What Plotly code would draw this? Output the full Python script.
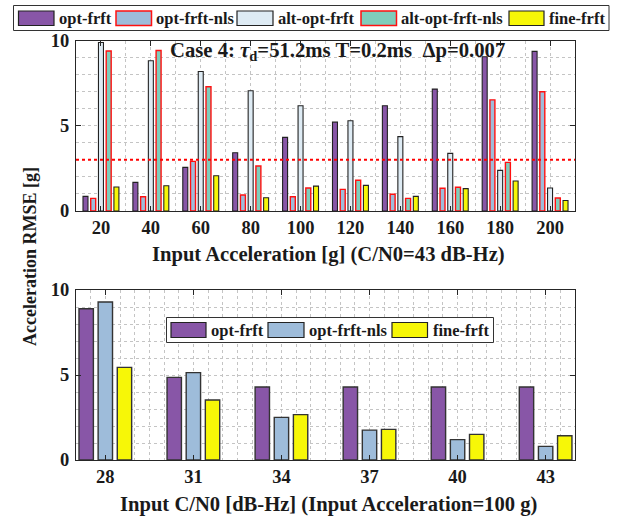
import plotly.graph_objects as go

W, H = 619, 519

# ---- acceleration sweep at C/N0 = 43 dB-Hz ----
accel_g = [20, 40, 60, 80, 100, 120, 140, 160, 180, 200]
opt_frft = [0.86, 1.68, 2.56, 3.42, 4.32, 5.21, 6.17, 7.15, 9.05, 9.36]
opt_frft_nls = [0.74, 0.84, 2.91, 0.94, 0.84, 1.27, 0.98, 1.33, 6.52, 6.99]
alt_opt_frft = [9.88, 8.81, 8.18, 7.05, 6.17, 5.29, 4.36, 3.38, 2.38, 1.35]
alt_opt_frft_nls = [9.38, 9.41, 7.29, 2.64, 1.35, 1.80, 0.74, 1.39, 2.85, 0.76]
fine_frft = [1.41, 1.48, 2.07, 0.78, 1.46, 1.50, 0.86, 1.31, 1.76, 0.62]
rmse_threshold = 3.0

# ---- C/N0 sweep at 100 g ----
cn0_dbhz = [28, 31, 34, 37, 40, 43]
cn0_opt_frft = [8.90, 4.86, 4.29, 4.29, 4.29, 4.29]
cn0_opt_frft_nls = [9.29, 5.14, 2.51, 1.76, 1.20, 0.80]
cn0_fine_frft = [5.45, 3.53, 2.67, 1.80, 1.51, 1.43]

y_ticks = [0, 5, 10]

FONT = "Liberation Serif"
INK = "#1a1a1a"
GRID = "#c4c4c4"

PURPLE = "#8856a7"
LBLUE = "#9ebcda"
PALE = "#deebf4"
TEAL = "#7fcdbb"
YELLOW = "#f7f707"
RED_EDGE = "#ff1010"

top_series = [
    ("opt-frft", opt_frft, PURPLE, "#222222", 1.1),
    ("opt-frft-nls", opt_frft_nls, LBLUE, RED_EDGE, 1.4),
    ("alt-opt-frft", alt_opt_frft, PALE, "#222222", 1.1),
    ("alt-opt-frft-nls", alt_opt_frft_nls, TEAL, RED_EDGE, 1.4),
    ("fine-frft", fine_frft, YELLOW, "#222222", 1.1),
]
bottom_series = [
    ("opt-frft", cn0_opt_frft, PURPLE, "#333333"),
    ("opt-frft-nls", cn0_opt_frft_nls, LBLUE, "#333333"),
    ("fine-frft", cn0_fine_frft, YELLOW, "#333333"),
]

fig = go.Figure()

# top panel: five bars per acceleration value
pitch_t, width_t = 3.1, 2.0
for i, (name, vals, fill, edge, lw) in enumerate(top_series):
    fig.add_trace(go.Bar(
        x=accel_g, y=vals, name=name, showlegend=False,
        width=width_t, offset=-7.2 + i * pitch_t,
        marker=dict(color=fill, line=dict(color=edge, width=lw)),
        xaxis="x", yaxis="y",
    ))

# bottom panel: three bars per C/N0 value
pitch_b, width_b = 0.652, 0.49
for i, (name, vals, fill, edge) in enumerate(bottom_series):
    fig.add_trace(go.Bar(
        x=cn0_dbhz, y=vals, name=name, showlegend=False,
        width=width_b, offset=-0.898 + i * pitch_b,
        marker=dict(color=fill, line=dict(color=edge, width=1.4)),
        xaxis="x2", yaxis="y2",
    ))

xdom = [76 / W, 575 / W]


def py(p):
    return 1 - p / H


def px(p):
    return p / W


tickfont = dict(family=FONT, size=18.5, color=INK, weight="bold")
common_x = dict(
    domain=xdom, showline=True, linecolor="#262626", linewidth=1.2,
    mirror="ticks", ticks="inside", ticklen=5, tickcolor="#262626",
    showgrid=True, gridcolor=GRID, griddash="dot", gridwidth=1,
    zeroline=False, tickfont=tickfont, automargin=False,
)
common_y = dict(
    range=[0, 10], tickvals=y_ticks, ticktext=[str(v) for v in y_ticks],
    showline=True, linecolor="#262626", linewidth=1.2,
    mirror="ticks", ticks="inside", ticklen=5, tickcolor="#262626",
    showgrid=True, gridcolor=GRID, griddash="dot", gridwidth=1,
    zeroline=False, tickfont=tickfont, ticklabelstandoff=2, automargin=False,
    minor=dict(dtick=1, showgrid=True, gridcolor=GRID, griddash="dot", gridwidth=1),
)

fig.update_layout(
    width=W, height=H,
    margin=dict(l=0, r=0, t=0, b=0, pad=0, autoexpand=False),
    paper_bgcolor="white", plot_bgcolor="white",
    barmode="overlay", showlegend=False,
    xaxis=dict(common_x, range=[10, 210], tickvals=accel_g,
               ticktext=[str(v) for v in accel_g], anchor="y",
               minor=dict(tick0=10, dtick=20, showgrid=True, gridcolor=GRID,
                          griddash="dot", gridwidth=1)),
    yaxis=dict(common_y, domain=[py(211), py(40.5)], anchor="x"),
    xaxis2=dict(common_x, range=[27, 44], tickvals=cn0_dbhz,
                ticktext=[str(v) for v in cn0_dbhz], anchor="y2",
                minor=dict(tick0=27, dtick=0.5, showgrid=True, gridcolor=GRID,
                           griddash="dot", gridwidth=1)),
    yaxis2=dict(common_y, domain=[py(460), py(290)], anchor="x2"),
)

# red threshold line on the acceleration panel
fig.add_shape(type="line", xref="x domain", x0=0, x1=1, yref="y",
              y0=rmse_threshold, y1=rmse_threshold,
              line=dict(color="#ff0000", width=2, dash="dot"), layer="above")

txt = dict(family=FONT, color=INK, weight="bold")

annotations = [
    dict(text="Case 4: <i>\u03c4</i><sub>d</sub>=51.2ms T=0.2ms\u00a0\u00a0\u0394p=0.007",
         x=px(168), y=py(51), xanchor="left", yanchor="middle",
         font=dict(txt, size=20.7)),
    dict(text="Input Acceleration [g] (C/N0=43 dB-Hz)", x=px(328), y=py(254),
         xanchor="center", yanchor="middle", font=dict(txt, size=20.6)),
    dict(text="Input C/N0 [dB-Hz] (Input Acceleration=100 g)", x=px(328), y=py(504),
         xanchor="center", yanchor="middle", font=dict(txt, size=20.6)),
    dict(text="Acceleration RMSE [g]", x=px(30), y=py(257), textangle=-90,
         xanchor="center", yanchor="middle", font=dict(txt, size=18)),
]

shapes = []


def legend_box(x0, y0, x1, y1):
    shapes.append(dict(type="rect", xref="paper", yref="paper",
                       x0=px(x0), x1=px(x1), y0=py(y1), y1=py(y0),
                       fillcolor="white", line=dict(color="#333333", width=1),
                       layer="above"))


def legend_item(sx0, sx1, sy0, sy1, fill, edge, ew, label, tx):
    shapes.append(dict(type="rect", xref="paper", yref="paper",
                       x0=px(sx0), x1=px(sx1), y0=py(sy1), y1=py(sy0),
                       fillcolor=fill, line=dict(color=edge, width=ew),
                       layer="above"))
    annotations.append(dict(text=label, x=px(tx), y=py((sy0 + sy1) / 2),
                            xanchor="left", yanchor="middle", showarrow=False,
                            font=dict(txt, size=16.5)))


# legend above the acceleration panel
legend_box(13.5, 5.5, 609, 30.5)
top_swatch_x = [(18.5, 54), (116, 151.5), (237, 273), (361, 396.5), (509, 544)]
for (sx0, sx1), (name, _, fill, edge, lw) in zip(top_swatch_x, top_series):
    legend_item(sx0, sx1, 11, 25.5, fill, edge, 1.5 if edge == RED_EDGE else 1.2,
                name, sx1 + 2.5)

# legend inside the C/N0 panel
legend_box(166.5, 317.5, 493.5, 342.5)
bot_swatch_x = [(171, 206), (268, 304), (392, 427.5)]
for (sx0, sx1), (name, _, fill, edge) in zip(bot_swatch_x, bottom_series):
    legend_item(sx0, sx1, 322.5, 337.5, fill, "#222222", 1.2, name, sx1 + 3)

for a in annotations:
    a.setdefault("xref", "paper")
    a.setdefault("yref", "paper")
    a.setdefault("showarrow", False)

fig.update_layout(annotations=annotations, shapes=fig.layout.shapes + tuple(shapes))

fig.write_html("out.html")
